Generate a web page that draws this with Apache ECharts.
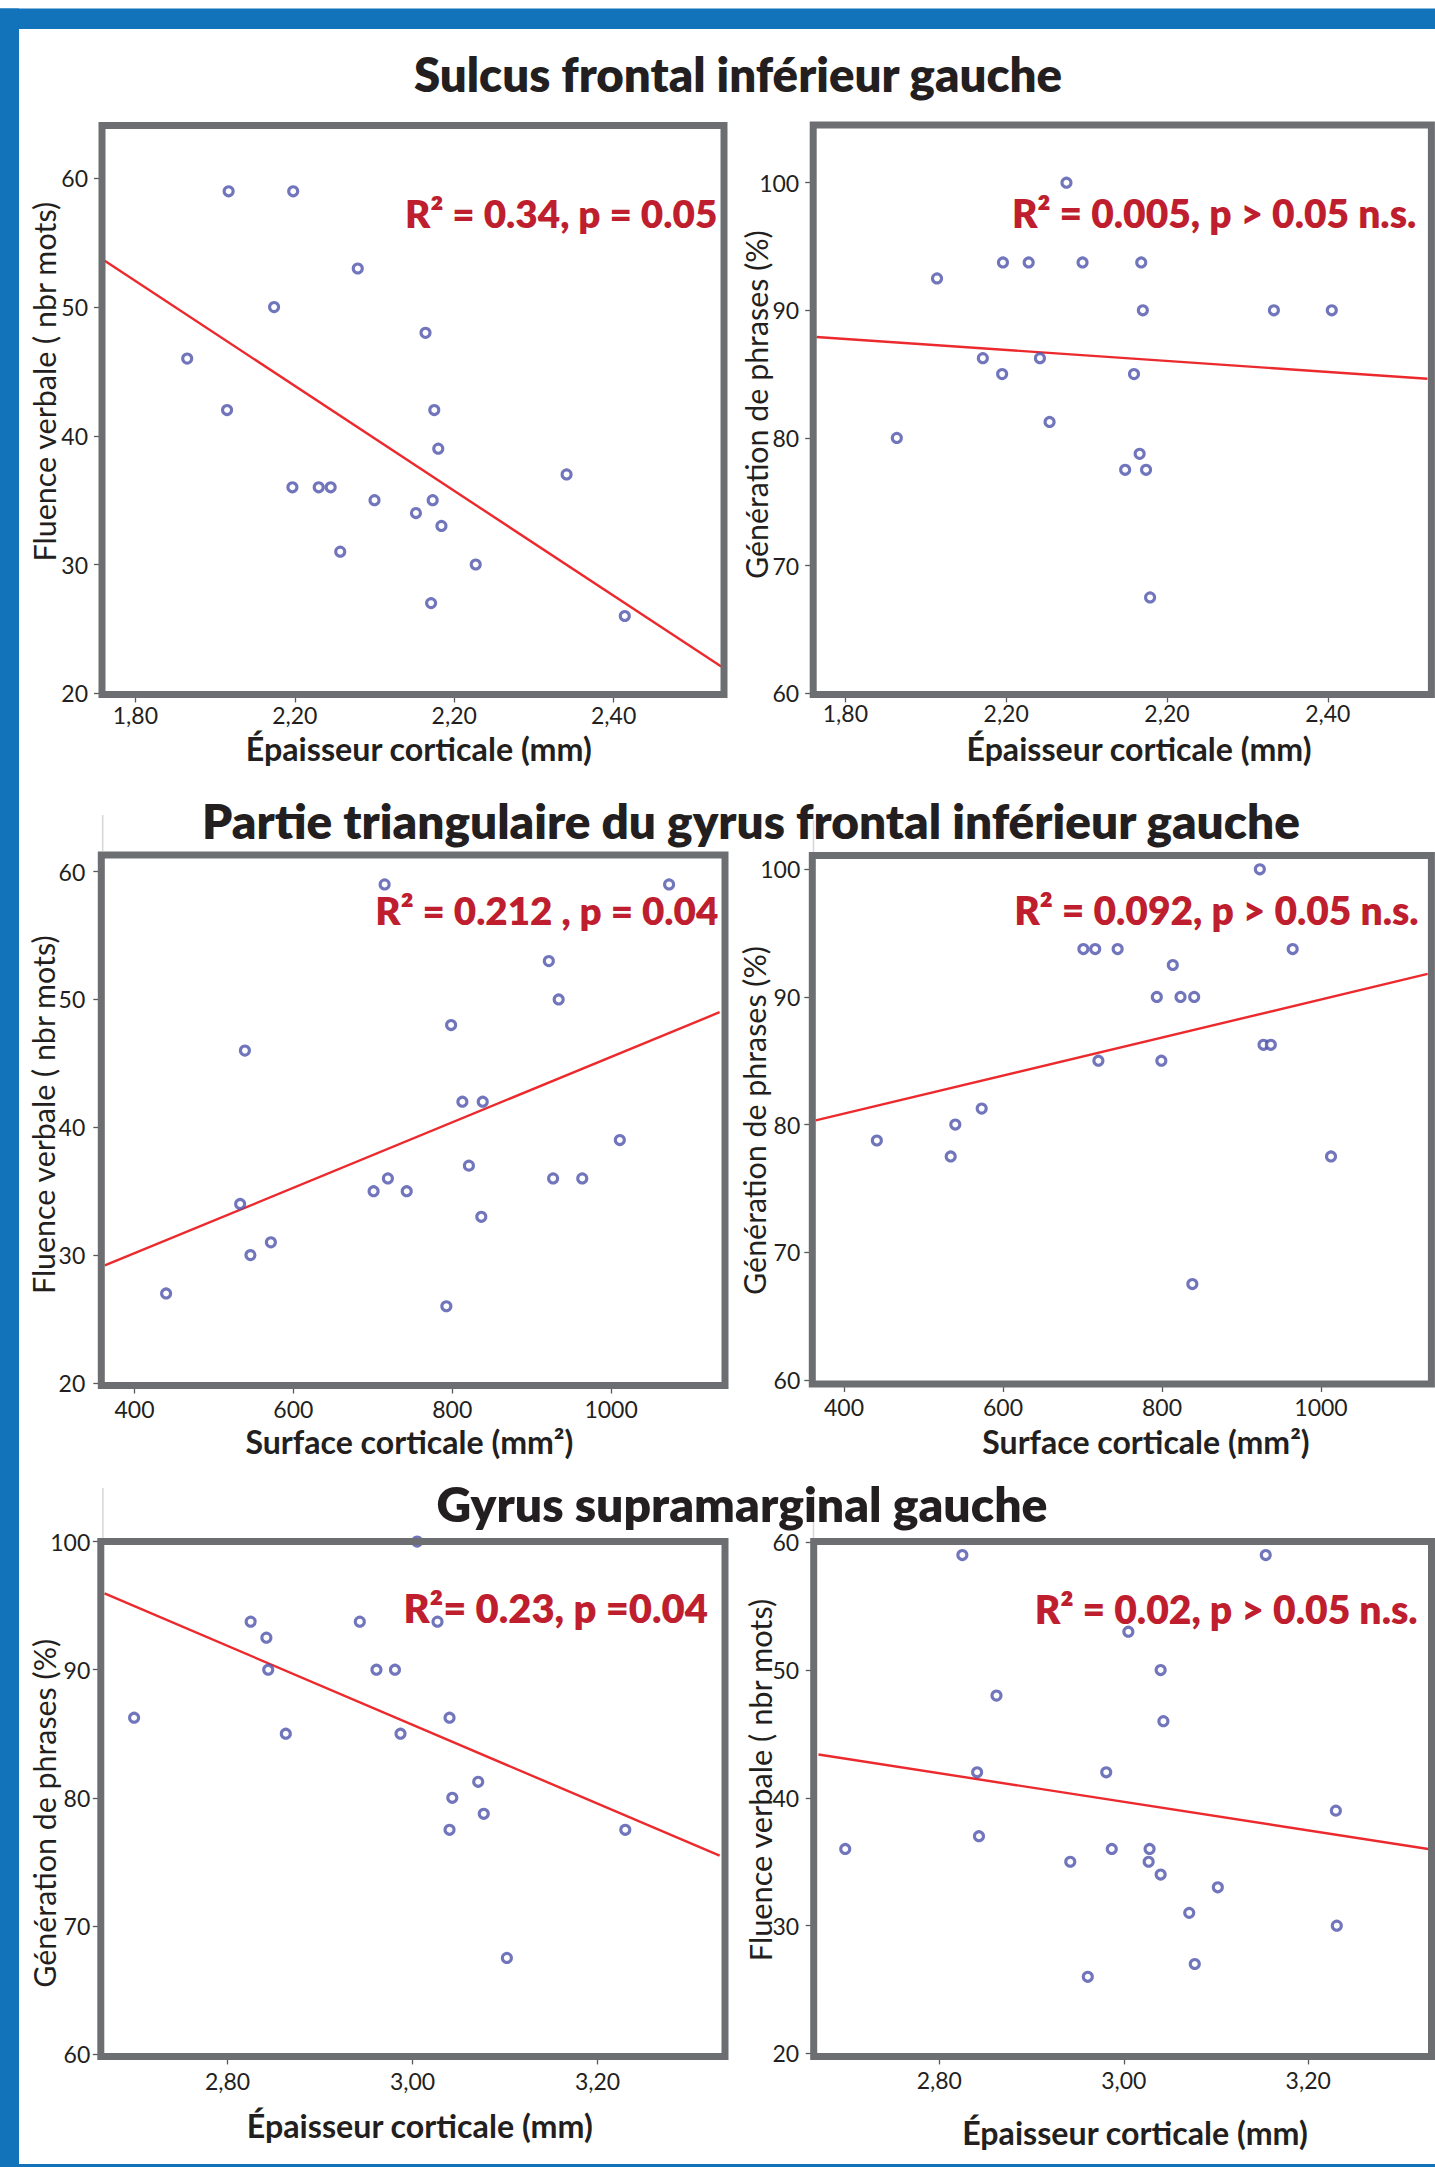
<!DOCTYPE html>
<html>
<head>
<meta charset="utf-8">
<script src="https://cdn.jsdelivr.net/npm/echarts@6/dist/echarts.min.js"></script>
<style>
html,body{margin:0;padding:0;background:#ffffff;}
#chart{width:1435px;height:2167px;}
</style>
</head>
<body>
<div id="chart"></div>
<script>
// ---------------- DATA ----------------
// Panel 1 : Sulcus frontal inférieur gauche – épaisseur vs fluence verbale
const sulcusThicknessA = [1.917, 1.998, 2.079, 1.974, 2.164, 1.865, 1.915, 2.175, 2.180, 2.341, 1.997, 2.030, 2.045, 2.100, 2.173, 2.152, 2.184, 2.057, 2.227, 2.171, 2.414];
const sulcusFluency    = [59, 59, 53, 50, 48, 46, 42, 42, 39, 37, 36, 36, 36, 35, 35, 34, 33, 31, 30, 27, 26];
const sulcusFluencyFit = [[1.7615, 53.6], [2.535, 22.07]];

// Panel 2 : Sulcus frontal inférieur gauche – épaisseur vs génération de phrases
const sulcusThicknessB = [2.075, 1.914, 1.996, 2.028, 2.095, 2.168, 2.170, 2.333, 2.405, 1.971, 2.042, 1.995, 2.159, 1.864, 2.054, 2.166, 2.148, 2.174, 2.179];
const sulcusSentences  = [100, 92.5, 93.75, 93.75, 93.75, 93.75, 90, 90, 90, 86.25, 86.25, 85, 85, 80, 81.25, 78.75, 77.5, 77.5, 67.5];
const sulcusSentencesFit = [[1.764, 87.91], [2.524, 84.63]];

// Panel 3 : Partie triangulaire – surface vs fluence verbale
const triSurfaceA  = [714.9, 1073, 921.6, 934, 798.6, 539, 812.8, 838.4, 1011, 821, 719, 927, 963.7, 701, 742.7, 533, 836.6, 571.7, 546, 439.8, 792.6];
const triFluency   = [59, 59, 53, 50, 48, 46, 42, 42, 39, 37, 36, 36, 36, 35, 35, 34, 33, 31, 30, 27, 26];
const triFluencyFit = [[362.6, 29.19], [1136.6, 49.0]];

// Panel 4 : Partie triangulaire – surface vs génération de phrases
const triSurfaceB  = [923.1, 701.1, 716, 744.2, 964.4, 813.6, 793.5, 823.3, 840.5, 927.7, 936.9, 720, 799.2, 573.2, 540, 441.3, 534.2, 1012.6, 838.2];
const triSentences = [100, 93.75, 93.75, 93.75, 93.75, 92.5, 90, 90, 90, 86.25, 86.25, 85, 85, 81.25, 80, 78.75, 77.5, 77.5, 67.5];
const triSentencesFit = [[364.4, 80.32], [1134.2, 91.8]];

// Panel 5 : Gyrus supramarginal – épaisseur vs génération de phrases
const smgThicknessA = [3.005, 2.825, 2.943, 3.027, 2.842, 2.844, 2.961, 2.981, 2.699, 3.040, 2.863, 2.987, 3.071, 3.043, 3.077, 3.040, 3.230, 3.102];
const smgSentences  = [100, 93.75, 93.75, 93.75, 92.5, 90, 90, 90, 86.25, 86.25, 85, 85, 81.25, 80, 78.75, 77.5, 77.5, 67.5];
const smgSentencesFit = [[2.667, 95.95], [3.332, 75.48]];

// Panel 6 : Gyrus supramarginal – épaisseur vs fluence verbale
const smgThicknessB = [2.825, 3.154, 3.005, 3.040, 2.862, 3.043, 2.841, 2.981, 3.230, 2.843, 2.698, 2.987, 3.028, 2.942, 3.027, 3.040, 3.102, 3.071, 3.231, 3.077, 2.961];
const smgFluency    = [59, 59, 53, 50, 48, 46, 42, 42, 39, 37, 36, 36, 36, 35, 35, 34, 33, 31, 30, 27, 26];
const smgFluencyFit = [[2.669, 43.39], [3.332, 35.98]];

// Tick values and labels
const thicknessTicksTop   = [1.8, 2.0, 2.2, 2.4];
const thicknessLabelsTop  = ["1,80", "2,20", "2,20", "2,40"];
const surfaceTicks        = [400, 600, 800, 1000];
const surfaceLabels       = ["400", "600", "800", "1000"];
const thicknessTicksBot   = [2.8, 3.0, 3.2];
const thicknessLabelsBot  = ["2,80", "3,00", "3,20"];
const fluencyTicks        = [20, 30, 40, 50, 60];
const sentenceTicks       = [60, 70, 80, 90, 100];

// Texts
const sectionTitles = ["Sulcus frontal inférieur gauche", "Partie triangulaire du gyrus frontal inférieur gauche", "Gyrus supramarginal gauche"];
const statLabels = ["R² = 0.34, p = 0.05", "R² = 0.005, p > 0.05 n.s.", "R² = 0.212 , p = 0.04", "R² = 0.092, p > 0.05 n.s.", "R²= 0.23, p =0.04", "R² = 0.02, p > 0.05 n.s."];
const xTitles = ["Épaisseur corticale (mm)", "Épaisseur corticale (mm)", "Surface corticale (mm²)", "Surface corticale (mm²)", "Épaisseur corticale (mm)", "Épaisseur corticale (mm)"];
const yTitles = ["Fluence verbale ( nbr mots)", "Génération de phrases (%)", "Fluence verbale ( nbr mots)", "Génération de phrases (%)", "Génération de phrases (%)", "Fluence verbale ( nbr mots)"];

// ---------------- LAYOUT ----------------
const panels = [
  { xs: sulcusThicknessA, ys: sulcusFluency,   fit: sulcusFluencyFit,   xt: thicknessTicksTop, xl: thicknessLabelsTop, yt: fluencyTicks,
    grid: [102, 125.5, 622, 569],   xr: [1.7581, 2.5385], yr: [19.9, 64.11], ylm: 14, xlm: 10 },
  { xs: sulcusThicknessB, ys: sulcusSentences, fit: sulcusSentencesFit, xt: thicknessTicksTop, xl: thicknessLabelsTop, yt: sentenceTicks,
    grid: [813.2, 125, 618.2, 569.4], xr: [1.76, 2.5289],  yr: [59.9, 104.52], ylm: 14, xlm: 9 },
  { xs: triSurfaceA, ys: triFluency,   fit: triFluencyFit,   xt: surfaceTicks, xl: surfaceLabels, yt: fluencyTicks,
    grid: [101.3, 855, 623.7, 530.5], xr: [358.2, 1143.4], yr: [19.8, 61.3], ylm: 16, xlm: 13 },
  { xs: triSurfaceB, ys: triSentences, fit: triSentencesFit, xt: surfaceTicks, xl: surfaceLabels, yt: sentenceTicks,
    grid: [812.3, 855.5, 619.1, 528.5], xr: [360.1, 1138.9], yr: [59.67, 101.08], ylm: 12, xlm: 12.5 },
  { xs: smgThicknessA, ys: smgSentences, fit: smgSentencesFit, xt: thicknessTicksBot, xl: thicknessLabelsBot, yt: sentenceTicks,
    grid: [100.8, 1541.6, 624.2, 514.8], xr: [2.663, 3.3378], yr: [59.81, 100.0], ylm: 10.5, xlm: 15 },
  { xs: smgThicknessB, ys: smgFluency,   fit: smgFluencyFit,   xt: thicknessTicksBot, xl: thicknessLabelsBot, yt: fluencyTicks,
    grid: [813.7, 1541.6, 617.8, 514.8], xr: [2.6638, 3.3337], yr: [19.77, 60.05], ylm: 14.5, xlm: 14 }
];

const titlePos   = [[738, 73], [751, 820], [742, 1503]];
const titleWidth = [649.5, 1099, 611];
const statPos    = [[717.3, 212.8], [1416.3, 212.8], [718.3, 910.4], [1418.6, 910.4], [707.9, 1608.2], [1417.7, 1608.2]];
const statWidth  = [312.3, 404.5, 343.1, 404.5, 304.4, 383.1];
const xTitlePos  = [[418.8, 748], [1139, 748], [409.4, 1441], [1146, 1441], [419.8, 2125], [1135, 2132]];
const xTitleWidth = [346.9, 345.7, 328, 327.4, 346.9, 346.5];
const yTitlePos  = [[44, 381.7], [756, 404.7], [43, 1114.7], [754, 1120.5], [44, 1813.3], [760, 1780]];
const yTitleLen  = [361, 349, 360, 349, 349, 364];
const axisStubs  = [[102.7, 815, 851], [813.5, 820, 852], [102.9, 1488, 1538], [813.5, 1490, 1538]];

const BLUE = '#1273ba', FRAME = '#6d6e71', TEXT = '#231f20', RED = '#be1e2d', LINE = '#ec2a2e', DOT = '#4d53ab';
const FONT = 'Lato, "Open Sans", sans-serif';
const BOLD = 800;

const mctx = document.createElement('canvas').getContext('2d');
function fitSize(text, weight, target) {
  mctx.font = weight + ' 100px Lato';
  return 100 * target / mctx.measureText(text).width;
}
function labelFor(ticks, labels) {
  return function (v) {
    for (let i = 0; i < ticks.length; i++) if (Math.abs(ticks[i] - v) < 1e-6) return labels[i];
    return '';
  };
}

const grids = [], xAxes = [], yAxes = [], series = [];
panels.forEach((p, i) => {
  grids.push({ left: p.grid[0], top: p.grid[1], width: p.grid[2], height: p.grid[3], show: true,
    borderColor: FRAME, borderWidth: 7, backgroundColor: 'transparent', z: 4, containLabel: false });
  xAxes.push({ type: 'value', gridIndex: i, min: p.xr[0], max: p.xr[1],
    axisLine: { show: false }, splitLine: { show: false },
    axisTick: { show: true, length: 8, customValues: p.xt, lineStyle: { color: '#58595b', width: 1.3 } },
    axisLabel: { show: true, customValues: p.xt, formatter: labelFor(p.xt, p.xl), margin: p.xlm,
      fontSize: 23, lineHeight: 20, color: TEXT, fontFamily: FONT } });
  yAxes.push({ type: 'value', gridIndex: i, min: p.yr[0], max: p.yr[1],
    axisLine: { show: false }, splitLine: { show: false },
    axisTick: { show: true, length: 8, customValues: p.yt, lineStyle: { color: '#58595b', width: 1.3 } },
    axisLabel: { show: true, customValues: p.yt, margin: p.ylm, fontSize: 23, lineHeight: 20, color: TEXT, fontFamily: FONT } });
  series.push({ type: 'line', xAxisIndex: i, yAxisIndex: i, data: p.fit, showSymbol: false, symbol: 'none',
    lineStyle: { color: LINE, width: 2.4 }, z: 2, animation: false, silent: true });
  series.push({ type: 'scatter', xAxisIndex: i, yAxisIndex: i, data: p.xs.map((x, k) => [x, p.ys[k]]),
    symbol: 'circle', symbolSize: 9, itemStyle: { color: '#ffffff', borderColor: DOT, borderWidth: 3.1 },
    z: 3, animation: false, silent: true });
});

const graphics = [];
// blue border
graphics.push({ type: 'rect', shape: { x: 0, y: 8.5, width: 1435, height: 20.5 }, style: { fill: BLUE }, z: 1 });
graphics.push({ type: 'rect', shape: { x: 0, y: 8.5, width: 19, height: 2158.5 }, style: { fill: BLUE }, z: 1 });
graphics.push({ type: 'rect', shape: { x: 0, y: 2164, width: 1435, height: 3 }, style: { fill: BLUE }, z: 1 });
// faint axis stubs above frames
axisStubs.forEach(s => graphics.push({ type: 'line', shape: { x1: s[0], y1: s[1], x2: s[0], y2: s[2] },
  style: { stroke: '#d6d6d8', lineWidth: 1.5 }, z: 1 }));

function textEl(text, x, y, size, weight, fill, align, rot) {
  return { type: 'text', x: x, y: y, rotation: rot || 0, z: 10,
    style: { text: text, fontSize: size, fontWeight: weight, fontFamily: FONT, fill: fill, lineHeight: Math.round(size),
      align: align, verticalAlign: 'middle', textAlign: align, textVerticalAlign: 'middle' } };
}
sectionTitles.forEach((t, i) => graphics.push(textEl(t, titlePos[i][0], titlePos[i][1], fitSize(t, BOLD, titleWidth[i]), BOLD, TEXT, 'center')));
statLabels.forEach((t, i) => graphics.push(textEl(t, statPos[i][0], statPos[i][1], fitSize(t, BOLD, statWidth[i]), BOLD, RED, 'right')));
xTitles.forEach((t, i) => graphics.push(textEl(t, xTitlePos[i][0], xTitlePos[i][1], fitSize(t, 'bold', xTitleWidth[i]), 'bold', TEXT, 'center')));
yTitles.forEach((t, i) => graphics.push(textEl(t, yTitlePos[i][0], yTitlePos[i][1], fitSize(t, 'normal', yTitleLen[i]), 'normal', TEXT, 'center', Math.PI / 2)));

const chart = echarts.init(document.getElementById('chart'), null, { renderer: 'svg', width: 1435, height: 2167 });
chart.setOption({
  backgroundColor: '#ffffff',
  animation: false,
  grid: grids,
  xAxis: xAxes,
  yAxis: yAxes,
  series: series,
  graphic: { elements: graphics }
});
</script>
</body>
</html>
